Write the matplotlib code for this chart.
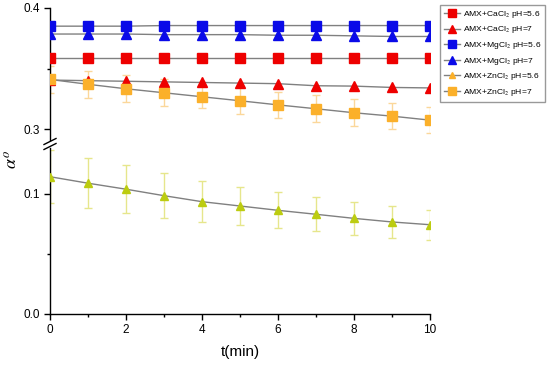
import matplotlib
matplotlib.use("Agg")
import matplotlib.pyplot as plt
from matplotlib.ticker import MultipleLocator, FormatStrFormatter
from matplotlib.lines import Line2D

plt.rcParams['font.family'] = ['Liberation Sans', 'DejaVu Sans']
plt.rcParams['mathtext.fontset'] = 'stix'

t = [0, 1, 2, 3, 4, 5, 6, 7, 8, 9, 10]
ca_56 = [0.359, 0.359, 0.359, 0.359, 0.359, 0.359, 0.359, 0.359, 0.359, 0.359, 0.359]
ca_7 = [0.3405, 0.340, 0.3395, 0.339, 0.3385, 0.338, 0.3375, 0.3358, 0.3355, 0.3344, 0.334]
mg_56 = [0.385, 0.385, 0.385, 0.3855, 0.3855, 0.3855, 0.3855, 0.3855, 0.3855, 0.3855, 0.3855]
mg_7 = [0.3785, 0.3785, 0.3785, 0.378, 0.378, 0.378, 0.3775, 0.3775, 0.377, 0.3765, 0.3765]
zn_56 = [0.1144, 0.109, 0.104, 0.0986, 0.0936, 0.090, 0.0864, 0.0831, 0.0797, 0.0767, 0.0744]
zn_56_err = [0.022, 0.021, 0.020, 0.019, 0.017, 0.016, 0.015, 0.014, 0.014, 0.013, 0.0125]
zn_7 = [0.341, 0.337, 0.3333, 0.330, 0.3267, 0.3234, 0.320, 0.3168, 0.3135, 0.3107, 0.3074]
zn_7_err = [0.011, 0.011, 0.011, 0.011, 0.0095, 0.011, 0.011, 0.011, 0.011, 0.011, 0.011]

labels = ['AMX+CaCl$_2$ pH=5.6', 'AMX+CaCl$_2$ pH=7', 'AMX+MgCl$_2$ pH=5.6',
          'AMX+MgCl$_2$ pH=7', 'AMX+ZnCl$_2$ pH=5.6', 'AMX+ZnCl$_2$ pH=7']

RED = '#ee0000'
BLUE = '#0a0ae8'
ORANGE = '#fbb02a'
YG = '#bccc10'
LINE = '#808080'

fig = plt.figure(figsize=(5.5, 3.66), dpi=100)
L = 50 / 550
W = 380 / 550
ax_top = fig.add_axes([L, (366 - 140) / 366, W, 132 / 366])
ax_bot = fig.add_axes([L, (366 - 314) / 366, W, 165.6 / 366])

series = [
    (ca_56, None, 's', RED, 6.5, None),
    (ca_7, None, '^', RED, 7, None),
    (mg_56, None, 's', BLUE, 6.5, None),
    (mg_7, None, '^', BLUE, 7, None),
    (zn_56, zn_56_err, '^', YG, 5.5, '#e6e68c'),
    (zn_7, zn_7_err, 's', ORANGE, 6.5, '#fbd79a'),
]

for ax in (ax_top, ax_bot):
    for vals, err, mk, col, ms, ecol in series:
        if err is not None:
            ax.errorbar(t, vals, yerr=err, fmt='none', ecolor=ecol, elinewidth=1,
                        capsize=3, capthick=1, zorder=2)
        ax.plot(t, vals, color=LINE, lw=1, zorder=3)
        ax.plot(t, vals, linestyle='none', marker=mk, ms=ms, color=col,
                markeredgecolor=col, zorder=4)
    ax.set_xlim(0, 10)
    ax.spines['top'].set_visible(False)
    ax.spines['right'].set_visible(False)
    ax.tick_params(direction='out', length=4, width=1, labelsize=8.5, colors='black')
    ax.tick_params(which='minor', direction='out', length=2.5, width=1)
    ax.xaxis.set_major_locator(MultipleLocator(2))
    ax.xaxis.set_minor_locator(MultipleLocator(1))
    for s in ax.spines.values():
        s.set_linewidth(1)

ax_top.set_ylim(0.291, 0.40)
ax_top.yaxis.set_major_locator(MultipleLocator(0.1))
ax_top.yaxis.set_minor_locator(MultipleLocator(0.05))
ax_top.spines['bottom'].set_visible(False)
ax_top.tick_params(axis='x', which='both', bottom=False, labelbottom=False)
ax_top.yaxis.set_major_formatter(FormatStrFormatter('%.1f'))

ax_bot.set_ylim(0, 0.138)
ax_bot.yaxis.set_major_locator(MultipleLocator(0.1))
ax_bot.yaxis.set_minor_locator(MultipleLocator(0.05))
ax_bot.yaxis.set_major_formatter(FormatStrFormatter('%.1f'))
ax_bot.set_xlabel('t(min)', fontsize=11, labelpad=6)

fig.text(12 / 550, 1 - 160 / 366, r'$\alpha^{o}$', rotation=90, fontsize=13,
         ha='center', va='center')

# axis break marks
for yb in (141.5, 146.5):
    x0, x1 = (L * 550 - 6), (L * 550 + 6)
    fig.add_artist(Line2D([x0 / 550, x1 / 550], [1 - (yb + 3) / 366, 1 - (yb - 3) / 366],
                          color='black', lw=1))

handles = []
for (vals, err, mk, col, ms, ecol), lab in zip(series, labels):
    is_small = (col == YG)
    c = ORANGE if is_small else col
    handles.append(Line2D([], [], color=LINE, lw=1, marker=mk, ms=4 if is_small else 6,
                          markerfacecolor=c, markeredgecolor=c))
leg = fig.legend(handles, labels, loc='upper left', bbox_to_anchor=(440 / 550, 1 - 5 / 366),
                 fontsize=6.1, frameon=True, fancybox=False, edgecolor='#808080',
                 handlelength=1.9, handletextpad=0.4, borderpad=0.45, labelspacing=0.55,
                 borderaxespad=0)
leg.get_frame().set_linewidth(1)

fig.savefig('out.png', dpi=100)
